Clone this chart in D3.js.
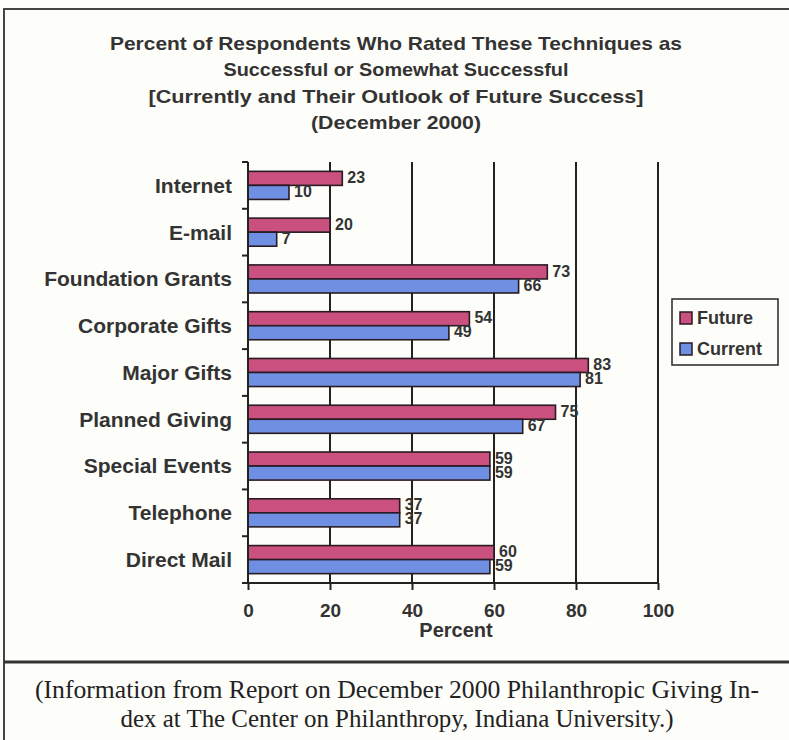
<!DOCTYPE html>
<html>
<head>
<meta charset="utf-8">
<script src="https://cdn.jsdelivr.net/npm/d3@7"></script>
<style>
  html, body { margin: 0; padding: 0; background: #fdfdf9; }
  svg { display: block; }
</style>
</head>
<body>
<svg id="chart"></svg>
<script>
// data
const categories = ["Internet", "E-mail", "Foundation Grants", "Corporate Gifts", "Major Gifts",
    "Planned Giving", "Special Events", "Telephone", "Direct Mail"];
const series = ["Future", "Current"];
const futureValues = [23, 20, 73, 54, 83, 75, 59, 37, 60];
const currentValues = [10, 7, 66, 49, 81, 67, 59, 37, 59];
const xTicks = [0, 20, 40, 60, 80, 100];
const titleLines = [
    "Percent of Respondents Who Rated These Techniques as",
    "Successful or Somewhat Successful",
    "[Currently and Their Outlook of Future Success]",
    "(December 2000)"
];
const noteLines = [
    "(Information from Report on December 2000 Philanthropic Giving In-",
    "dex at The Center on Philanthropy, Indiana University.)"
];

const width = 789, height = 740;
const colors = { Future: "#c9507f", Current: "#6e8fe2" };
const ink = "#333";
const sans = "Liberation Sans, Arial, sans-serif";

const svg = d3.select("#chart").attr("width", width).attr("height", height);

// frame
svg.append("line").attr("x1", 4).attr("x2", width).attr("y1", 9).attr("y2", 9)
    .attr("stroke", "#444").attr("stroke-width", 2);
svg.append("line").attr("x1", 4).attr("x2", 4).attr("y1", 8).attr("y2", height)
    .attr("stroke", "#444").attr("stroke-width", 2);
svg.append("line").attr("x1", 4).attr("x2", width).attr("y1", 662).attr("y2", 662)
    .attr("stroke", "#333").attr("stroke-width", 3);

// title
const titleWidths = [572, 345, 495, 170];
svg.append("g").selectAll("text")
    .data(titleLines)
    .enter().append("text")
    .attr("x", 396)
    .attr("y", (d, i) => 50 + i * 26.3)
    .attr("text-anchor", "middle")
    .attr("font-family", sans)
    .attr("font-weight", "bold")
    .attr("font-size", 19)
    .attr("textLength", (d, i) => titleWidths[i])
    .attr("lengthAdjust", "spacingAndGlyphs")
    .attr("fill", ink)
    .text(d => d);

// scales
const x = d3.scaleLinear().domain([0, 100]).range([248, 658]);
const y = d3.scaleBand().domain(categories).range([162, 583])
    .paddingInner(0.4).paddingOuter(0.2);
const ySub = d3.scaleBand().domain(series).range([0, y.bandwidth()]);

// gridlines
svg.append("g").selectAll("line")
    .data(xTicks.slice(1))
    .enter().append("line")
    .attr("x1", d => x(d)).attr("x2", d => x(d))
    .attr("y1", 162).attr("y2", 583)
    .attr("stroke", "#222").attr("stroke-width", 2);

// bars
const rows = categories.map((c, i) => ({ cat: c, Future: futureValues[i], Current: currentValues[i] }));
const groups = svg.append("g").selectAll("g")
    .data(rows)
    .enter().append("g")
    .attr("transform", d => `translate(0,${y(d.cat)})`);

groups.selectAll("rect")
    .data(d => series.map(s => ({ s: s, v: d[s] })))
    .enter().append("rect")
    .attr("x", x(0))
    .attr("y", d => ySub(d.s))
    .attr("width", d => x(d.v) - x(0))
    .attr("height", ySub.bandwidth())
    .attr("fill", d => colors[d.s])
    .attr("stroke", "#2a1a22")
    .attr("stroke-width", 1.6);

groups.selectAll("text")
    .data(d => series.map(s => ({ s: s, v: d[s] })))
    .enter().append("text")
    .attr("x", d => x(d.v) + 5)
    .attr("y", d => ySub(d.s) + ySub.bandwidth() / 2 - 1)
    .attr("dy", "0.35em")
    .attr("font-family", sans)
    .attr("font-weight", "bold")
    .attr("font-size", 16)
    .attr("fill", ink)
    .text(d => d.v);

// y axis with ticks at band edges
const yAxis = svg.append("g");
yAxis.append("line").attr("x1", x(0)).attr("x2", x(0)).attr("y1", 162).attr("y2", 583)
    .attr("stroke", "#222").attr("stroke-width", 2);
const step = y.step();
yAxis.selectAll("line.tick")
    .data(d3.range(categories.length + 1))
    .enter().append("line")
    .attr("class", "tick")
    .attr("x1", x(0) - 6).attr("x2", x(0))
    .attr("y1", i => 162 + i * step).attr("y2", i => 162 + i * step)
    .attr("stroke", "#222").attr("stroke-width", 2);
yAxis.selectAll("text")
    .data(categories)
    .enter().append("text")
    .attr("x", 232)
    .attr("y", d => y(d) + y.bandwidth() / 2)
    .attr("dy", "0.35em")
    .attr("text-anchor", "end")
    .attr("font-family", sans)
    .attr("font-weight", "bold")
    .attr("font-size", 21)
    .attr("fill", ink)
    .text(d => d);

// x axis
const xAxis = svg.append("g")
    .attr("transform", "translate(0,583)")
    .call(d3.axisBottom(x).tickValues(xTicks).tickSize(7).tickSizeOuter(0).tickPadding(14));
xAxis.select(".domain").attr("stroke", "#222").attr("stroke-width", 2)
    .attr("d", `M${x(0) - 6},0H${x(100)}`);
xAxis.selectAll(".tick line").attr("stroke", "#222").attr("stroke-width", 2);
xAxis.selectAll(".tick text")
    .attr("font-family", sans)
    .attr("font-weight", "bold")
    .attr("font-size", 19)
    .attr("fill", ink);

svg.append("text")
    .attr("x", 456).attr("y", 637)
    .attr("text-anchor", "middle")
    .attr("font-family", sans)
    .attr("font-weight", "bold")
    .attr("font-size", 20)
    .attr("fill", ink)
    .text("Percent");

// legend
const legend = svg.append("g").attr("transform", "translate(672,299)");
legend.append("rect").attr("width", 106).attr("height", 66)
    .attr("fill", "none").attr("stroke", "#333").attr("stroke-width", 1.6);
const items = legend.selectAll("g")
    .data(series)
    .enter().append("g")
    .attr("transform", (d, i) => `translate(8,${13 + i * 31})`);
items.append("rect").attr("width", 12).attr("height", 12)
    .attr("fill", d => colors[d]).attr("stroke", "#2a1a22").attr("stroke-width", 1.5);
items.append("text")
    .attr("x", 17).attr("y", 6).attr("dy", "0.36em")
    .attr("font-family", sans)
    .attr("font-weight", "bold")
    .attr("font-size", 18)
    .attr("fill", ink)
    .text(d => d);

// source note
svg.append("g").selectAll("text")
    .data(noteLines)
    .enter().append("text")
    .attr("x", 397)
    .attr("y", (d, i) => 698 + i * 29)
    .attr("text-anchor", "middle")
    .attr("font-family", "Liberation Serif, Times New Roman, serif")
    .attr("font-size", 25)
    .attr("textLength", (d, i) => [724, 553][i])
    .attr("lengthAdjust", "spacingAndGlyphs")
    .attr("fill", "#222")
    .text(d => d);
</script>
</body>
</html>
